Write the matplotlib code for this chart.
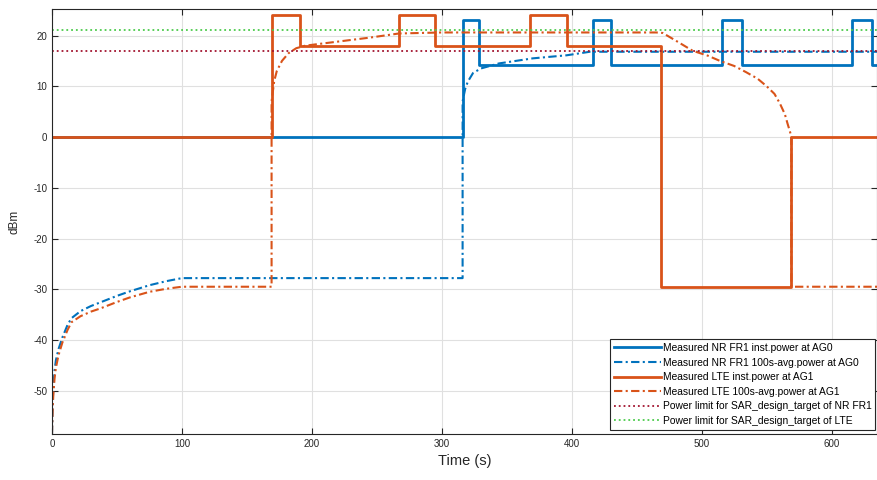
import numpy as np
import matplotlib
matplotlib.use("Agg")
import matplotlib.pyplot as plt

plt.rcParams["font.family"] = ["Liberation Sans", "DejaVu Sans"]
plt.rcParams["axes.unicode_minus"] = False

# ---- data (time in s, power in dBm) ----
t_nr_inst = [0, 316, 316, 329, 329, 416, 416, 430, 430, 516, 516, 531, 531, 616, 616, 631, 631, 635]
p_nr_inst = [0, 0, 23, 23, 14.2, 14.2, 23, 23, 14.2, 14.2, 23, 23, 14.2, 14.2, 23, 23, 14.2, 14.2]

t_nr_avg = [0, 0.5, 1, 2, 3, 5, 8, 12, 15, 22, 30, 37, 50, 60, 75, 88, 100, 316,
            316, 318, 320, 324, 330, 344, 370, 396, 414, 635]
p_nr_avg = [-58.5, -53, -49.5, -46, -44, -41.8, -39.5, -37, -35.7, -34.3, -33.3, -32.6, -31.3,
            -30.4, -29.2, -28.4, -27.8, -27.8,
            7, 9.5, 10.9, 12.6, 13.5, 14.5, 15.5, 16.1, 16.8, 16.8]

t_lte_inst = [0, 169, 169, 191, 191, 267, 267, 295, 295, 368, 368, 396, 396, 469, 469, 569, 569, 635]
p_lte_inst = [0, 0, 24, 24, 18, 18, 24, 24, 18, 18, 24, 24, 18, 18, -29.5, -29.5, 0, 0]

t_lte_avg = [0, 0.5, 1, 2, 3, 5, 8, 12, 15, 22, 30, 37, 50, 60, 75, 88, 100, 169,
             169, 171, 173, 177, 182, 188, 195, 220, 245, 267, 300, 465,
             470, 480, 493, 505, 514, 525, 534, 543, 550, 556, 560, 564, 566, 568, 569,
             569, 635]
p_lte_avg = [-58.5, -54, -51, -47.5, -45.5, -43, -40.5, -38, -36.5, -35.3, -34.4, -33.8, -32.5,
             -31.6, -30.5, -29.9, -29.5, -29.5,
             7, 11, 13, 15, 16.5, 17.5, 18, 18.8, 19.6, 20.4, 20.6, 20.6,
             20.5, 19, 17, 16, 15, 14, 12.8, 11.5, 10, 8.5, 6.7, 4.5, 2.7, 1, 0,
             -29.5, -29.5]

limit_nr = 17
limit_lte = 21

labels = ["Measured NR FR1 inst.power at AG0",
          "Measured NR FR1 100s-avg.power at AG0",
          "Measured LTE inst.power at AG1",
          "Measured LTE 100s-avg.power at AG1",
          "Power limit for SAR_design_target of NR FR1",
          "Power limit for SAR_design_target of LTE"]

blue = "#0072BD"
red = "#D95319"
dashdot = (0, (4, 1.6, 1, 1.6))

fig = plt.figure(figsize=(8.78, 4.80), dpi=100)
ax = fig.add_axes([0.0592, 0.096, 0.9398, 0.885])

ax.plot(t_nr_inst, p_nr_inst, color=blue, lw=2.0, solid_joinstyle="round", label=labels[0])
ax.plot(t_nr_avg, p_nr_avg, color=blue, lw=1.5, linestyle=dashdot, label=labels[1])
ax.plot(t_lte_inst, p_lte_inst, color=red, lw=2.0, solid_joinstyle="round", label=labels[2])
ax.plot(t_lte_avg, p_lte_avg, color=red, lw=1.5, linestyle=dashdot, label=labels[3])
ax.plot([0, 635], [limit_nr, limit_nr], color="#A2142F", lw=1.3, linestyle=":", label=labels[4])
ax.plot([0, 635], [limit_lte, limit_lte], color="#4CCB4C", lw=1.3, linestyle=":", label=labels[5])

ax.set_xlim(0, 635)
ax.set_ylim(-58.5, 25.2)
ax.set_xticks([0, 100, 200, 300, 400, 500, 600])
ax.set_yticks([-50, -40, -30, -20, -10, 0, 10, 20])

ax.grid(True, color="#E0E0E0", lw=0.8)
ax.set_axisbelow(True)
for s in ax.spines.values():
    s.set_color("#262626")
    s.set_linewidth(0.8)
ax.tick_params(direction="in", top=True, right=True, length=4, width=0.8,
               labelsize=7, colors="#262626")

ax.set_xlabel("Time (s)", fontsize=10.5, color="#262626", labelpad=4)
ax.set_ylabel("dBm", fontsize=8.5, color="#262626", labelpad=9)

leg = ax.legend(loc="lower right", bbox_to_anchor=(0.998, 0.01), fontsize=7.4,
                frameon=True, fancybox=False, edgecolor="#262626", framealpha=1,
                handlelength=4.6, handletextpad=0.2, labelspacing=0.45,
                borderpad=0.35, borderaxespad=0)
leg.get_frame().set_linewidth(0.8)

fig.savefig("out.png", dpi=100)
